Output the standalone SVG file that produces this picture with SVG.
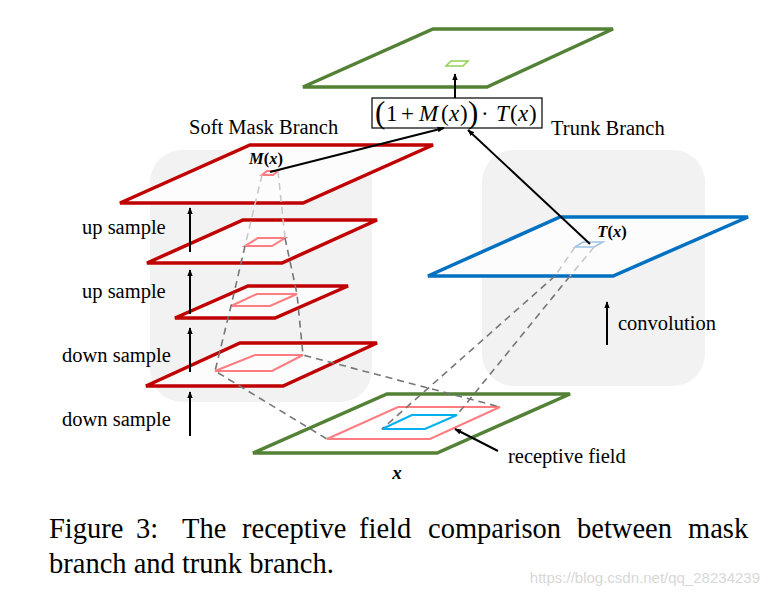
<svg xmlns="http://www.w3.org/2000/svg" width="770" height="595" viewBox="0 0 770 595">
<defs>
<marker id="ah" viewBox="0 0 10 10" refX="9" refY="5" markerWidth="7" markerHeight="7" orient="auto" markerUnits="userSpaceOnUse"><path d="M0,1 L10,5 L0,9 z" fill="#000"/></marker>
<style>
.lbl{font-family:"Liberation Serif",serif;font-size:20.5px;fill:#000}
.cap{font-family:"Liberation Serif",serif;font-size:28.5px;fill:#000}
.math{font-family:"Liberation Serif",serif;fill:#000}
.bg{fill:#f2f2f2}
.red{fill:#fcfcfc;stroke:#c00000;stroke-width:3.5;stroke-linejoin:miter}
.pink{fill:none;stroke:#ff7c80;stroke-width:2}
.blue{fill:#fcfcfc;stroke:#0070c0;stroke-width:3.5}
.green{fill:#fff;stroke:#538135;stroke-width:3.5}
.dash{fill:none;stroke:#767676;stroke-width:1.6;stroke-dasharray:7,5}
.dashl{fill:none;stroke:#c8c8c8;stroke-width:1.6;stroke-dasharray:7,5}
.arr{stroke:#000;stroke-width:2;fill:none;marker-end:url(#ah)}
</style>
</defs>
<rect width="770" height="595" fill="#fff"/>
<g id="bg-soft"><rect class="bg" x="150" y="150" width="222" height="252" rx="32"/></g>
<g id="bg-trunk"><rect class="bg" x="482" y="150" width="223" height="236" rx="32"/></g>

<g id="layer-x">
<polygon class="green" points="387,394 570,394 437,453 253,453"/>
<polygon class="pink" points="398,407 500,407 430,439 327,439"/>
<polygon fill="none" stroke="#00b0f0" stroke-width="2" points="412,415 457,415 425,429 382,429"/>
<text x="397" y="479" class="math" font-size="19" font-weight="bold" font-style="italic" text-anchor="middle">x</text>
</g>

<g id="mask4"><polygon class="red" points="240,343 377,343 283,386 146,386"/><polygon class="pink" points="255,355 303,355 272,371 215,371"/></g>
<g id="mask3"><polygon class="red" points="248,286 348,286 275,318 175,318"/><polygon class="pink" points="257,294 297,294 270,306 231,306"/></g>
<g id="mask2"><polygon class="red" points="243,220 377,220 282,263 147,263"/><polygon class="pink" points="258,238 285,238 272,246 245,246"/></g>
<g id="mask1"><polygon class="red" points="250,145 433,145 303,203 120,203"/><polygon class="pink" stroke-width="1.5" points="267,171 278,171 273,175 262,175"/>
<text x="266" y="164" class="math" font-size="16.5" font-weight="bold" font-style="italic" text-anchor="middle">M<tspan font-style="normal">(</tspan>x<tspan font-style="normal">)</tspan></text></g>

<g id="trunk"><polygon class="blue" points="560,217 748,217 613,276 428,276"/><polygon fill="none" stroke="#9dc3e6" stroke-width="1.5" points="583,242 603,242 594,247 575,247"/>
<text x="612" y="237" class="math" font-size="16.5" font-weight="bold" font-style="italic" text-anchor="middle">T<tspan font-style="normal">(</tspan>x<tspan font-style="normal">)</tspan></text></g>

<g id="out"><polygon class="green" points="433,29 613,29 487,87 303,87"/><polygon fill="none" stroke="#92d050" stroke-width="1.5" points="451,61 468,61 463,66 446,66"/></g>

<g id="formula"><rect x="372" y="98" width="170" height="30" fill="#fff" stroke="#000" stroke-width="1.2"/>
<text y="121" class="math" font-size="23"><tspan x="375" font-size="31" dy="2">(</tspan><tspan x="386" dy="-2">1</tspan><tspan x="401">+</tspan><tspan x="419" font-style="italic">M</tspan><tspan x="441">(</tspan><tspan x="449" font-style="italic">x</tspan><tspan x="460">)</tspan><tspan x="468" font-size="31" dy="2">)</tspan><tspan x="481" dy="-2">·</tspan><tspan x="496" font-style="italic">T</tspan><tspan x="510">(</tspan><tspan x="518" font-style="italic">x</tspan><tspan x="529">)</tspan></text></g>

<g id="connectors">
<path class="dashl" d="M262,175 L245,246 M278,171 L285,238"/>
<path class="dash" d="M245,246 L231,306 L215,371 L327,439 M285,238 L297,294 L303,355 L500,407"/>
<path class="dashl" d="M575,247 L555,276 M594,247 L570,276"/>
<path class="dash" d="M555,276 L382,429 M570,276 L457,415"/>
<line class="arr" x1="270" y1="172" x2="444" y2="128"/>
<line class="arr" x1="590" y1="244" x2="468" y2="130"/>
<line class="arr" x1="455" y1="98" x2="455" y2="74"/>
<line class="arr" x1="190" y1="252" x2="190" y2="208"/>
<line class="arr" x1="190" y1="314" x2="190" y2="270"/>
<line class="arr" x1="190" y1="372" x2="190" y2="328"/>
<line class="arr" x1="190" y1="436" x2="190" y2="392"/>
<line class="arr" x1="607" y1="345" x2="607" y2="302"/>
<line class="arr" x1="498" y1="451" x2="455" y2="429"/>
</g>

<g id="labels">
<text x="189" y="134" class="lbl">Soft Mask Branch</text>
<text x="551" y="135" class="lbl">Trunk Branch</text>
<text x="82" y="234" class="lbl">up sample</text>
<text x="82" y="298" class="lbl">up sample</text>
<text x="62" y="362" class="lbl">down sample</text>
<text x="62" y="426" class="lbl">down sample</text>
<text x="618" y="330" class="lbl">convolution</text>
<text x="508" y="463" class="lbl">receptive field</text>
</g>

<g id="caption">
<text y="538" class="cap"><tspan x="49">Figure</tspan><tspan x="136">3:</tspan><tspan x="182">The</tspan><tspan x="242">receptive</tspan><tspan x="359">field</tspan><tspan x="428">comparison</tspan><tspan x="577">between</tspan><tspan x="688">mask</tspan></text>
<text x="49" y="573" class="cap">branch and trunk branch.</text>
<text x="760" y="583" font-family="Liberation Sans Narrow, Liberation Sans, sans-serif" font-size="15" fill="#d8d8d8" text-anchor="end">https://blog.csdn.net/qq_28234239</text>
</g>
</svg>
